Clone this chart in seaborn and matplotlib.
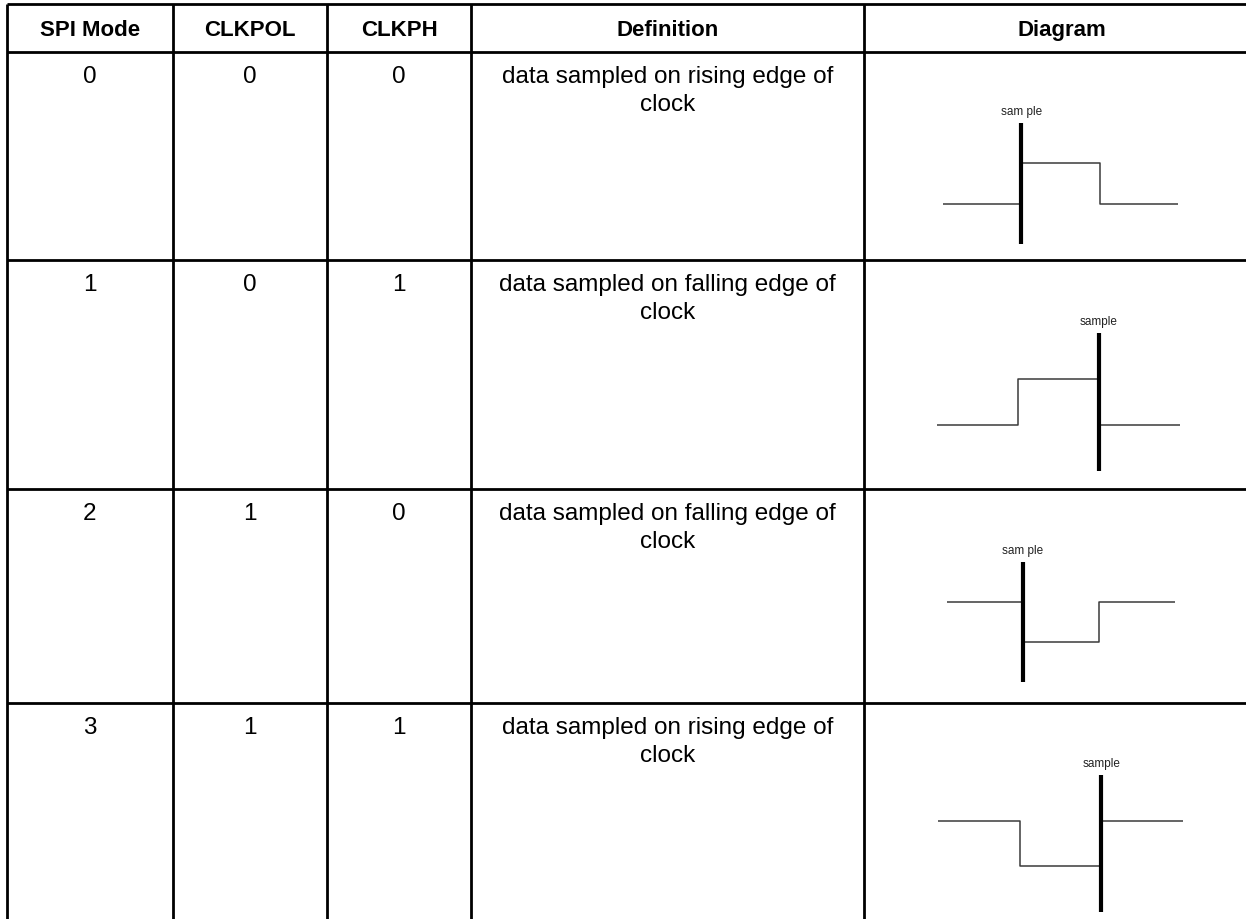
import matplotlib
matplotlib.use("Agg")
import matplotlib.pyplot as plt
import seaborn as sns
import pandas as pd

# ---------------- data ----------------
headers = ["SPI Mode", "CLKPOL", "CLKPH", "Definition", "Diagram"]
spi_modes = ["0", "1", "2", "3"]
clkpol = ["0", "0", "1", "1"]
clkph = ["0", "1", "0", "1"]
definitions = [
    "data sampled on rising edge of\nclock",
    "data sampled on falling edge of\nclock",
    "data sampled on falling edge of\nclock",
    "data sampled on rising edge of\nclock",
]
# clock level in each of three segments, and the edge index where data is sampled
wave_levels = [[0, 1, 0], [0, 1, 0], [1, 0, 1], [1, 0, 1]]
sample_edge = [1, 2, 1, 2]
sample_labels = ["sam ple", "sample", "sam ple", "sample"]

# ---------------- layout (pixels) ----------------
W, H = 1246, 919
col_x = [7, 173, 327, 471, 864, 1260]   # last edge lies just outside the image
row_y = [4, 52, 260, 489, 703]
line_pitch = 28
# diagram boxes: x0, x1, ytop, ybottom
diag_boxes = [(943, 1178, 123, 244), (937, 1180, 333, 471),
              (947, 1175, 562, 682), (938, 1183, 775, 912)]

sns.set_theme(style="white")
plt.rcParams['font.family'] = ['Liberation Sans', 'DejaVu Sans']

fig = plt.figure(figsize=(W / 100, H / 100), dpi=100)
ax = fig.add_axes([0, 0, 1, 1])
ax.set_xlim(0, W)
ax.set_ylim(H, 0)
ax.axis("off")

lw_grid = 2.0
for y in row_y:
    ax.plot([col_x[0], W], [y, y], color="black", lw=lw_grid, solid_capstyle="butt")
for x in col_x[:-1]:
    ax.plot([x, x], [row_y[0], H], color="black", lw=lw_grid, solid_capstyle="butt")

centers = [(col_x[i] + col_x[i + 1]) / 2 for i in range(len(col_x) - 1)]
for c, h in zip(centers, headers):
    ax.text(c, 36, h, ha="center", va="baseline",
            fontsize=16, fontweight="bold", color="black")

for i in range(4):
    base = row_y[i + 1] + 31
    vals = [spi_modes[i], clkpol[i], clkph[i], definitions[i]]
    for c, v in zip(centers[:4], vals):
        for k, line in enumerate(v.split("\n")):
            ax.text(c, base + k * line_pitch, line, ha="center", va="baseline",
                    fontsize=17.5, color="black")

# diagrams
for i in range(4):
    x0, x1, yt, yb = diag_boxes[i]
    dax = fig.add_axes([x0 / W, 1 - yb / H, (x1 - x0) / W, (yb - yt) / H])
    dax.set_xlim(0, 3)
    dax.set_ylim(-1, 2)
    dax.axis("off")
    lv = wave_levels[i]
    df = pd.DataFrame({"t": [0, 1, 2, 3], "level": lv + [lv[-1]]})
    sns.lineplot(data=df, x="t", y="level", ax=dax, drawstyle="steps-post",
                 estimator=None, sort=False, color="#3a3a3a", lw=1.1)
    e = sample_edge[i]
    dax.plot([e, e], [-1, 2], color="black", lw=3.0, solid_capstyle="round")
    dax.annotate(sample_labels[i], (e, 2), xytext=(0, 6), textcoords="offset points",
                 ha="center", va="baseline", fontsize=8.5, color="#222222",
                 annotation_clip=False)
    dax.set_xlabel("")
    dax.set_ylabel("")

fig.savefig("out.png", dpi=100)
